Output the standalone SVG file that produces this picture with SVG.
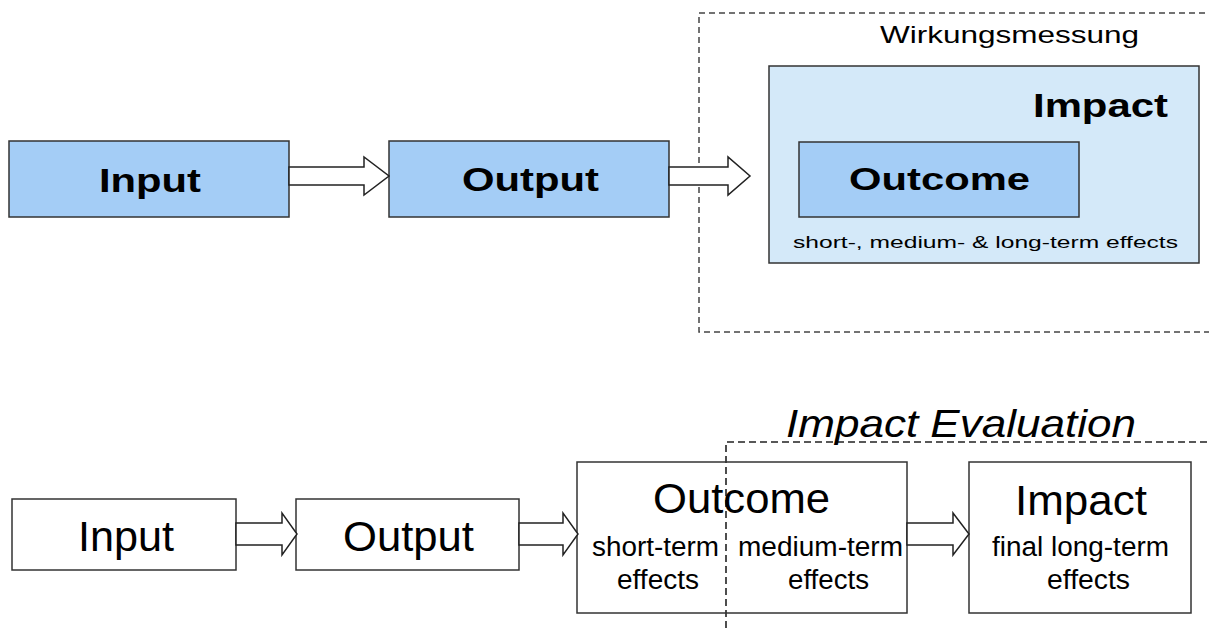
<svg xmlns="http://www.w3.org/2000/svg" width="1209" height="628" viewBox="0 0 1209 628">
<style>
.box{stroke:#333;stroke-width:1.5}
.blue{fill:#a4cdf6}
.lblue{fill:#d4e9f9}
.white{fill:#fff}
.arrow{fill:#fff;stroke:#222;stroke-width:1.5;stroke-linejoin:miter}
.dash{fill:none;stroke:#444;stroke-width:1.5;stroke-dasharray:6 4}
.dash2{fill:none;stroke:#222;stroke-width:1.6;stroke-dasharray:7 4}
.t{font-family:"Liberation Sans",Arial,sans-serif;fill:#000}
.b{font-weight:bold}
</style>
<rect width="1209" height="628" fill="#fff"/>
<g id="wirkungsmessung">
<path class="dash" d="M1215,13 H699 V332 H1215"/>
<text class="t" x="880" y="43" font-size="24" textLength="259" lengthAdjust="spacingAndGlyphs">Wirkungsmessung</text>
</g>
<g id="top-input">
<rect class="box blue" x="9" y="141" width="280" height="76"/>
<text class="t b" x="99" y="192" font-size="33" textLength="102" lengthAdjust="spacingAndGlyphs">Input</text>
</g>
<g id="top-output">
<rect class="box blue" x="389" y="141" width="280" height="76"/>
<text class="t b" x="462" y="191" font-size="33" textLength="137" lengthAdjust="spacingAndGlyphs">Output</text>
</g>
<g id="top-impact">
<rect class="box lblue" x="769" y="66" width="430" height="197"/>
<text class="t b" x="1033" y="117" font-size="33" textLength="135" lengthAdjust="spacingAndGlyphs">Impact</text>
<text class="t" x="793" y="248" font-size="17" textLength="385" lengthAdjust="spacingAndGlyphs">short-, medium- &amp; long-term effects</text>
</g>
<g id="top-outcome">
<rect class="box blue" x="799" y="142" width="280" height="75"/>
<text class="t b" x="849" y="190" font-size="32" textLength="181" lengthAdjust="spacingAndGlyphs">Outcome</text>
</g>
<g id="impact-evaluation">
<path class="dash2" d="M726,628 V442 H1215"/>
<text class="t" x="786" y="437" font-size="38" font-style="italic" textLength="350" lengthAdjust="spacingAndGlyphs">Impact Evaluation</text>
</g>
<g id="bottom-input">
<rect class="box white" x="12" y="499" width="224" height="71"/>
<text class="t" x="78" y="551" font-size="43" textLength="96" lengthAdjust="spacingAndGlyphs">Input</text>
</g>
<g id="bottom-output">
<rect class="box white" x="296" y="499" width="223" height="71"/>
<text class="t" x="343" y="551" font-size="43" textLength="131" lengthAdjust="spacingAndGlyphs">Output</text>
</g>
<g id="bottom-outcome">
<rect class="box" fill="none" x="577" y="462" width="330" height="151"/>
<text class="t" x="653" y="513" font-size="42" textLength="177" lengthAdjust="spacingAndGlyphs">Outcome</text>
<text class="t" x="592" y="556" font-size="27" textLength="127" lengthAdjust="spacingAndGlyphs">short-term</text>
<text class="t" x="617" y="589" font-size="27" textLength="82" lengthAdjust="spacingAndGlyphs">effects</text>
<text class="t" x="738" y="556" font-size="27" textLength="165" lengthAdjust="spacingAndGlyphs">medium-term</text>
<text class="t" x="788" y="589" font-size="27" textLength="81" lengthAdjust="spacingAndGlyphs">effects</text>
</g>
<g id="bottom-impact">
<rect class="box white" x="969" y="462" width="222" height="151"/>
<text class="t" x="1015" y="515" font-size="43" textLength="132" lengthAdjust="spacingAndGlyphs">Impact</text>
<text class="t" x="992" y="556" font-size="27" textLength="177" lengthAdjust="spacingAndGlyphs">final long-term</text>
<text class="t" x="1047" y="589" font-size="27" textLength="83" lengthAdjust="spacingAndGlyphs">effects</text>
</g>
<g id="connectors">
<path class="arrow" d="M289,167 H364 V157 L389,176 L364,195 V185 H289 Z"/>
<path class="arrow" d="M669,167 H728 V157 L750,176 L728,195 V185 H669 Z"/>
<path class="arrow" d="M236,523 H282 V513 L297,534 L282,555 V545 H236 Z"/>
<path class="arrow" d="M519,523 H563 V513 L578,534 L563,555 V545 H519 Z"/>
<path class="arrow" d="M907,523 H953 V513 L969,534 L953,555 V545 H907 Z"/>
</g>
</svg>
